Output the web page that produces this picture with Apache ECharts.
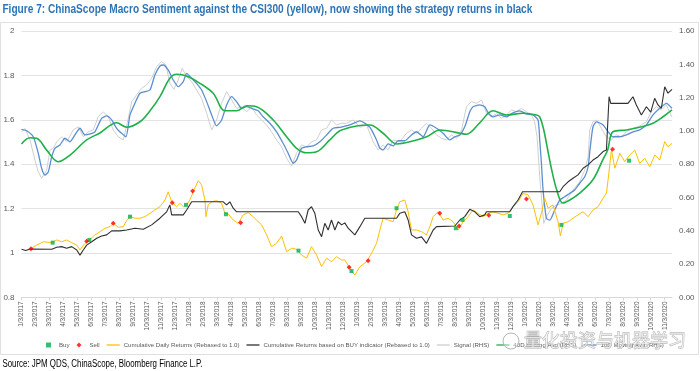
<!DOCTYPE html>
<html><head><meta charset="utf-8">
<script src="https://cdn.jsdelivr.net/npm/echarts@6/dist/echarts.min.js"></script>
<style>html,body{margin:0;padding:0;background:#fff}#c{width:700px;height:371px}</style>
</head><body><div id="c"></div>
<script>
// x values are months since 3 Jan 2017
const monthLabels = ['1/3/2017','2/3/2017','3/3/2017','4/3/2017','5/3/2017','6/3/2017','7/3/2017','8/3/2017','9/3/2017','10/3/2017','11/3/2017','12/3/2017',
'1/3/2018','2/3/2018','3/3/2018','4/3/2018','5/3/2018','6/3/2018','7/3/2018','8/3/2018','9/3/2018','10/3/2018','11/3/2018','12/3/2018',
'1/3/2019','2/3/2019','3/3/2019','4/3/2019','5/3/2019','6/3/2019','7/3/2019','8/3/2019','9/3/2019','10/3/2019','11/3/2019','12/3/2019',
'1/3/2020','2/3/2020','3/3/2020','4/3/2020','5/3/2020','6/3/2020','7/3/2020','8/3/2020','9/3/2020','10/3/2020','11/3/2020'];
const leftTicks = {min:0.8, max:2, step:0.2};
const rightTicks = {min:0, max:1.6, step:0.2};

const signalRHS = [[0,0.995],[0.25,1.015],[0.61,0.946],[0.96,0.825],[1.20,0.755],[1.44,0.716],[1.80,0.765],[2.04,0.886],[2.27,0.896],[2.52,0.935],[2.87,0.965],[3.23,0.935],[3.70,1.006],[4.06,1.025],[4.42,0.965],[4.77,0.995],[5.13,1.006],[5.49,1.085],[5.85,1.115],[6.20,1.085],[6.56,1.006],[6.92,0.965],[7.28,0.946],[7.56,1.046],[7.88,1.176],[8.23,1.216],[8.59,1.256],[8.95,1.276],[9.31,1.316],[9.66,1.386],[10.02,1.416],[10.33,1.396],[10.61,1.286],[10.90,1.250],[11.21,1.306],[11.49,1.376],[11.81,1.326],[12.17,1.296],[12.52,1.246],[12.88,1.196],[13.24,1.106],[13.60,1.006],[13.95,1.066],[14.31,1.166],[14.67,1.236],[15.03,1.186],[15.38,1.136],[15.74,1.145],[16.10,1.115],[16.45,1.145],[16.81,1.096],[17.17,1.066],[17.53,1.036],[17.88,0.995],[18.24,0.946],[18.60,0.905],[18.96,0.836],[19.31,0.789],[19.67,0.866],[20.03,0.916],[20.39,0.904],[20.74,0.935],[21.10,0.946],[21.46,1.006],[21.82,1.016],[22.17,1.066],[22.53,1.036],[22.89,1.046],[23.25,1.046],[23.72,1.066],[24.20,1.022],[24.68,1.036],[25.15,0.935],[25.51,0.886],[25.86,0.916],[26.22,0.886],[26.58,0.946],[27.05,0.934],[27.53,0.986],[27.89,1.006],[28.25,0.986],[28.61,1.016],[28.96,1.046],[29.32,1.016],[29.68,0.976],[30.04,0.956],[30.39,0.946],[30.75,0.976],[31.11,0.956],[31.47,1.006],[31.82,1.145],[32.18,1.176],[32.54,1.166],[32.90,1.186],[33.25,1.106],[33.61,1.085],[33.97,1.102],[34.32,1.076],[34.68,1.096],[35.04,1.126],[35.40,1.115],[35.75,1.136],[36.11,1.115],[36.47,1.096],[36.70,1.055],[36.87,0.965],[37.01,0.785],[37.14,0.645],[37.26,0.525],[37.35,0.445],[37.54,0.485],[37.90,0.535],[38.25,0.555],[38.61,0.565],[38.97,0.585],[39.44,0.645],[39.92,0.695],[40.28,0.765],[40.52,0.845],[40.64,1.006],[40.87,1.055],[41.12,1.066],[41.47,1.016],[41.83,0.965],[42.19,0.946],[42.55,0.976],[42.90,0.964],[43.26,0.995],[43.73,1.016],[44.21,1.030],[44.69,1.055],[45.04,1.115],[45.40,1.145],[45.76,1.126],[46.12,1.156],[46.52,1.082]];

const ma10RHS = [[0,1.010],[0.37,1.001],[0.84,0.965],[1.20,0.866],[1.44,0.776],[1.68,0.735],[1.92,0.755],[2.16,0.845],[2.39,0.896],[2.75,0.916],[3.11,0.956],[3.47,0.935],[3.82,0.976],[4.18,1.016],[4.54,0.976],[4.90,0.982],[5.25,0.995],[5.73,1.076],[6.09,1.090],[6.45,1.066],[6.80,1.016],[7.16,0.986],[7.47,0.965],[7.76,1.096],[8.11,1.166],[8.47,1.226],[8.83,1.236],[9.19,1.246],[9.54,1.336],[9.90,1.390],[10.14,1.396],[10.49,1.366],[10.85,1.306],[11.21,1.266],[11.57,1.296],[11.81,1.346],[12.17,1.316],[12.52,1.286],[12.88,1.246],[13.24,1.176],[13.60,1.096],[13.95,1.030],[14.31,1.066],[14.67,1.156],[15.03,1.206],[15.38,1.176],[15.74,1.136],[16.10,1.146],[16.45,1.136],[16.93,1.121],[17.28,1.085],[17.76,1.046],[18.24,0.995],[18.71,0.926],[19.07,0.866],[19.43,0.806],[19.67,0.825],[20.03,0.896],[20.39,0.905],[20.86,0.910],[21.34,0.935],[21.82,0.976],[22.29,1.016],[22.77,1.022],[23.48,1.036],[24.20,1.061],[24.91,1.022],[25.39,0.946],[25.63,0.896],[25.86,0.886],[26.22,0.922],[26.58,0.910],[26.93,0.941],[27.41,0.941],[27.89,0.976],[28.25,0.995],[28.72,0.965],[29.20,1.036],[29.68,1.016],[30.15,0.986],[30.63,0.946],[30.99,0.965],[31.35,0.976],[31.70,1.025],[32.06,1.115],[32.29,1.145],[32.77,1.156],[33.13,1.145],[33.37,1.109],[33.72,1.085],[34.20,1.096],[34.68,1.085],[35.15,1.109],[35.63,1.121],[36.11,1.102],[36.58,1.096],[36.94,1.066],[37.06,0.946],[37.18,0.807],[37.30,0.645],[37.54,0.475],[37.78,0.465],[38.13,0.525],[38.49,0.585],[38.85,0.605],[39.21,0.626],[39.56,0.645],[39.92,0.686],[40.28,0.725],[40.52,0.785],[40.67,0.898],[40.87,1.025],[41.12,1.055],[41.59,1.036],[41.95,0.995],[42.30,0.965],[42.78,0.965],[43.26,0.976],[43.73,0.995],[44.21,1.006],[44.69,1.036],[45.16,1.096],[45.64,1.136],[46.12,1.166],[46.52,1.136]];

const ma40RHS = [[0,0.922],[0.61,0.959],[1.09,0.956],[1.80,0.885],[2.63,0.815],[3.47,0.855],[4.66,0.946],[5.61,0.988],[6.81,1.049],[7.52,1.022],[8.47,1.055],[9.19,1.121],[9.90,1.206],[10.61,1.316],[11.09,1.340],[11.81,1.330],[12.76,1.286],[13.71,1.226],[14.55,1.121],[15.38,1.121],[16.10,1.151],[16.81,1.145],[18.00,1.066],[18.96,0.965],[19.67,0.896],[20.39,0.869],[21.10,0.875],[22.05,0.946],[22.77,1.001],[23.96,1.030],[24.91,1.036],[25.86,0.986],[26.82,0.922],[27.77,0.935],[28.97,0.965],[29.92,1.006],[31.35,0.986],[31.82,0.980],[32.77,1.049],[33.72,1.121],[34.68,1.096],[35.87,1.106],[36.83,1.096],[37.06,1.085],[37.35,1.006],[37.63,0.886],[37.92,0.765],[38.28,0.645],[38.71,0.567],[39.21,0.585],[39.92,0.627],[40.85,0.705],[41.56,0.825],[41.92,0.886],[42.30,0.995],[43.26,1.006],[44.21,1.022],[45.16,1.046],[45.88,1.085],[46.52,1.126]];

const csi300Cum = [[0.61,1.018],[1.09,1.036],[1.56,1.051],[2.16,1.047],[2.52,1.059],[2.87,1.051],[3.23,1.059],[3.59,1.047],[3.95,1.036],[4.18,1.014],[4.54,1.044],[4.90,1.062],[5.25,1.082],[5.61,1.096],[5.97,1.112],[6.33,1.119],[6.56,1.134],[6.92,1.116],[7.28,1.119],[7.52,1.146],[7.76,1.164],[8.11,1.157],[8.47,1.157],[8.83,1.164],[9.19,1.179],[9.54,1.194],[9.90,1.209],[10.26,1.239],[10.49,1.276],[10.74,1.231],[11.09,1.209],[11.33,1.224],[11.57,1.209],[11.81,1.217],[12.04,1.239],[12.28,1.276],[12.64,1.326],[12.88,1.307],[13.12,1.239],[13.19,1.164],[13.35,1.217],[13.60,1.231],[13.95,1.236],[14.31,1.224],[14.55,1.179],[14.78,1.176],[15.14,1.149],[15.50,1.134],[15.85,1.172],[16.21,1.182],[16.57,1.164],[16.81,1.149],[17.17,1.127],[17.53,1.082],[17.88,1.029],[18.24,1.044],[18.60,1.077],[18.96,1.006],[19.31,1.022],[19.67,1.017],[20.03,0.991],[20.39,0.977],[20.74,1.029],[21.10,0.991],[21.46,0.939],[21.82,0.977],[22.17,0.961],[22.53,0.984],[22.89,0.969],[23.12,0.969],[23.48,0.932],[23.84,0.901],[24.20,0.939],[24.68,0.961],[25.03,0.999],[25.39,1.044],[25.63,1.104],[25.86,1.157],[26.22,1.149],[26.58,1.141],[26.82,1.194],[27.05,1.231],[27.41,1.239],[27.65,1.186],[27.89,1.104],[28.25,1.104],[28.61,1.096],[28.96,1.082],[29.20,1.119],[29.44,1.164],[29.79,1.186],[30.15,1.149],[30.51,1.157],[30.87,1.141],[31.22,1.104],[31.58,1.141],[31.94,1.164],[32.29,1.194],[32.65,1.179],[33.01,1.164],[33.37,1.179],[33.72,1.186],[34.08,1.179],[34.44,1.172],[34.80,1.179],[35.15,1.209],[35.51,1.231],[35.87,1.269],[36.23,1.262],[36.58,1.217],[36.94,1.127],[37.18,1.179],[37.42,1.247],[37.66,1.202],[38.01,1.217],[38.37,1.141],[38.54,1.077],[38.73,1.134],[39.09,1.141],[39.44,1.157],[39.80,1.172],[40.16,1.186],[40.52,1.164],[40.87,1.194],[41.23,1.209],[41.59,1.247],[41.83,1.269],[41.99,1.352],[42.19,1.464],[42.43,1.382],[42.79,1.449],[43.14,1.412],[43.50,1.442],[43.86,1.464],[44.21,1.404],[44.57,1.427],[44.93,1.389],[45.29,1.442],[45.64,1.419],[46.00,1.502],[46.23,1.479],[46.52,1.494]];

const strategyCum = [[0,1.017],[0.3,1.012],[0.61,1.018],[2.16,1.017],[2.52,1.026],[2.87,1.029],[3.23,1.022],[3.59,1.029],[3.95,1.014],[4.18,0.991],[4.42,1.014],[4.66,1.036],[5.02,1.051],[5.38,1.067],[5.73,1.077],[6.09,1.082],[6.45,1.100],[7.04,1.100],[7.52,1.104],[8.11,1.112],[8.71,1.107],[9.31,1.127],[9.90,1.157],[10.38,1.186],[10.61,1.217],[10.74,1.172],[11.57,1.172],[11.81,1.194],[12.17,1.231],[14.43,1.231],[14.67,1.217],[14.90,1.231],[15.14,1.202],[15.38,1.186],[19.79,1.186],[20.03,1.164],[20.27,1.134],[20.50,1.194],[20.74,1.209],[20.98,1.179],[21.22,1.104],[21.46,1.074],[21.69,1.134],[21.93,1.104],[22.17,1.149],[22.41,1.104],[22.65,1.141],[22.89,1.127],[23.12,1.136],[23.36,1.112],[23.84,1.082],[24.20,1.119],[24.55,1.157],[26.82,1.157],[27.05,1.179],[27.41,1.186],[27.65,1.149],[27.89,1.082],[28.25,1.067],[28.61,1.073],[28.96,1.044],[29.20,1.074],[29.44,1.104],[29.68,1.119],[30.99,1.122],[31.35,1.149],[31.70,1.164],[32.06,1.197],[32.42,1.186],[32.77,1.164],[33.13,1.172],[33.25,1.186],[34.92,1.186],[35.15,1.209],[35.51,1.239],[35.83,1.276],[38.49,1.276],[38.73,1.299],[39.09,1.321],[39.44,1.337],[39.80,1.352],[40.16,1.382],[40.52,1.397],[40.87,1.419],[41.23,1.434],[41.59,1.457],[41.83,1.464],[42.02,1.704],[42.14,1.674],[43.37,1.674],[43.73,1.704],[43.97,1.667],[44.33,1.622],[44.69,1.659],[45.00,1.635],[45.28,1.697],[45.52,1.667],[45.76,1.652],[46.00,1.749],[46.23,1.720],[46.52,1.737]];

const buyPoints = [[2.23,1.047],[4.85,1.059],[7.76,1.164],[11.76,1.217],[14.62,1.175],[19.81,1.011],[23.60,0.919],[26.82,1.202],[31.06,1.112],[31.54,1.149],[34.92,1.167],[38.61,1.127],[43.45,1.416]];
const sellPoints = [[0.68,1.020],[4.66,1.053],[6.56,1.134],[10.78,1.227],[12.24,1.280],[15.67,1.137],[23.43,0.936],[24.79,0.966],[29.91,1.179],[31.29,1.122],[33.42,1.170],[36.11,1.244],[42.27,1.467]];

const SANS = "'Liberation Sans',Arial,sans-serif";
const titleText = 'Figure 7: ChinaScope Macro Sentiment against the CSI300 (yellow), now showing the strategy returns in black';
const sourceText = 'Source: JPM QDS, ChinaScope, Bloomberg Finance L.P.';
const names = ['Buy','Sell','Cumulative Daily Returns (Rebased to 1.0)','Cumulative Returns based on BUY indicator (Rebased to 1.0)','Signal (RHS)','40D Moving Avg (RHS)','10D Moving Avg (RHS)'];
const LINE_ICON = 'path://M0,0H12V1.2H0Z';

const chart = echarts.init(document.getElementById('c'), null, {renderer:'canvas'});
chart.setOption({
  animation:false,
  backgroundColor:'#fff',
  textStyle:{fontFamily:SANS},
  grid:{left:21.5, right:28, top:31, bottom:73.5, containLabel:false},
  xAxis:{type:'value', min:0, max:46.52, interval:1,
    axisLine:{lineStyle:{color:'#d9d9d9'}},
    axisTick:{show:true, length:3, lineStyle:{color:'#d9d9d9'}},
    splitLine:{show:false},
    axisLabel:{rotate:90, fontSize:6.5, color:'#595959', margin:4, fontFamily:SANS,
      showMaxLabel:false,
      formatter:function(v){ if(Math.abs(v-Math.round(v))>1e-6) return ''; return monthLabels[Math.round(v)]||''; }}
  },
  yAxis:[
    {type:'value', min:leftTicks.min, max:leftTicks.max, interval:leftTicks.step,
     axisLine:{show:false}, axisTick:{show:false},
     splitLine:{lineStyle:{color:'#e3e3e3', width:1}},
     axisLabel:{fontSize:8, color:'#595959', margin:7,
       formatter:function(v){return String(Math.round(v*10)/10);}}},
    {type:'value', min:rightTicks.min, max:rightTicks.max, interval:rightTicks.step, position:'right',
     axisLine:{show:false}, axisTick:{show:false}, splitLine:{show:false},
     axisLabel:{fontSize:8, color:'#595959', margin:7, formatter:function(v){return v.toFixed(2);}}}
  ],
  legend:{left:46, top:342, itemWidth:13, itemHeight:5, itemGap:7, padding:0,
    textStyle:{fontSize:6.1, color:'#595959', fontFamily:SANS, padding:[0,0,0,-1]},
    data:[
      {name:names[0], icon:'path://M0,0L1,0L1,1L0,1Z'},
      {name:names[1], icon:'path://M0.5,0L1,0.5L0.5,1L0,0.5Z'},
      {name:names[2], icon:LINE_ICON},{name:names[3], icon:LINE_ICON},{name:names[4], icon:LINE_ICON},
      {name:names[5], icon:LINE_ICON},{name:names[6], icon:LINE_ICON}
    ]},
  graphic:[
    {type:'rect', silent:true, shape:{x:0.5, y:22.5, width:698, height:332}, style:{fill:'none', stroke:'#e0e0e0', lineWidth:1}, z:-1},
    {type:'text', silent:true, x:2, y:3, scaleX:0.81, scaleY:1, originX:2, originY:3,
     style:{text:titleText, font:"bold 12.5px 'Liberation Sans',Arial,sans-serif", fill:'#2E74B5'}},
    {type:'text', silent:true, x:2, y:359, scaleX:0.79, scaleY:1, originX:2, originY:359,
     style:{text:sourceText, font:"10px 'Liberation Sans',Arial,sans-serif", fill:'#000'}},
    {type:'circle', silent:true, shape:{cx:511, cy:341, r:8}, style:{fill:'rgba(255,255,255,0.4)', stroke:'#b5b5b5', lineWidth:1}, z:100},
    {type:'text', silent:true, x:524, y:331, z:100,
     style:{text:'量化投资与机器学习', font:"18px 'Noto Sans CJK SC'", fill:'rgba(255,255,255,0.55)', stroke:'#b0b0b0', lineWidth:0.8}}
  ],
  series:[
    {name:names[4], type:'line', yAxisIndex:1, data:signalRHS, symbol:'none', showSymbol:false, lineStyle:{color:'#cfcfcf', width:1}, itemStyle:{color:'#cfcfcf'}, z:1},
    {name:names[6], type:'line', yAxisIndex:1, data:ma10RHS, symbol:'none', showSymbol:false, smooth:0.2, lineStyle:{color:'#5B8FD0', width:1.3}, itemStyle:{color:'#5B8FD0'}, z:2},
    {name:names[5], type:'line', yAxisIndex:1, data:ma40RHS, symbol:'none', showSymbol:false, smooth:0.35, lineStyle:{color:'#1FB04A', width:1.6}, itemStyle:{color:'#1FB04A'}, z:3},
    {name:names[2], type:'line', yAxisIndex:0, data:csi300Cum, symbol:'none', showSymbol:false, lineStyle:{color:'#FFC000', width:1}, itemStyle:{color:'#FFC000'}, z:4},
    {name:names[3], type:'line', yAxisIndex:0, data:strategyCum, symbol:'none', showSymbol:false, lineStyle:{color:'#303030', width:1.1}, itemStyle:{color:'#303030'}, z:5},
    {name:names[0], type:'scatter', yAxisIndex:0, data:buyPoints, symbol:'rect', symbolSize:4, itemStyle:{color:'#00B050'}, z:6},
    {name:names[1], type:'scatter', yAxisIndex:0, data:sellPoints, symbol:'diamond', symbolSize:5, itemStyle:{color:'#FF0000'}, z:6}
  ]
});
</script></body></html>
